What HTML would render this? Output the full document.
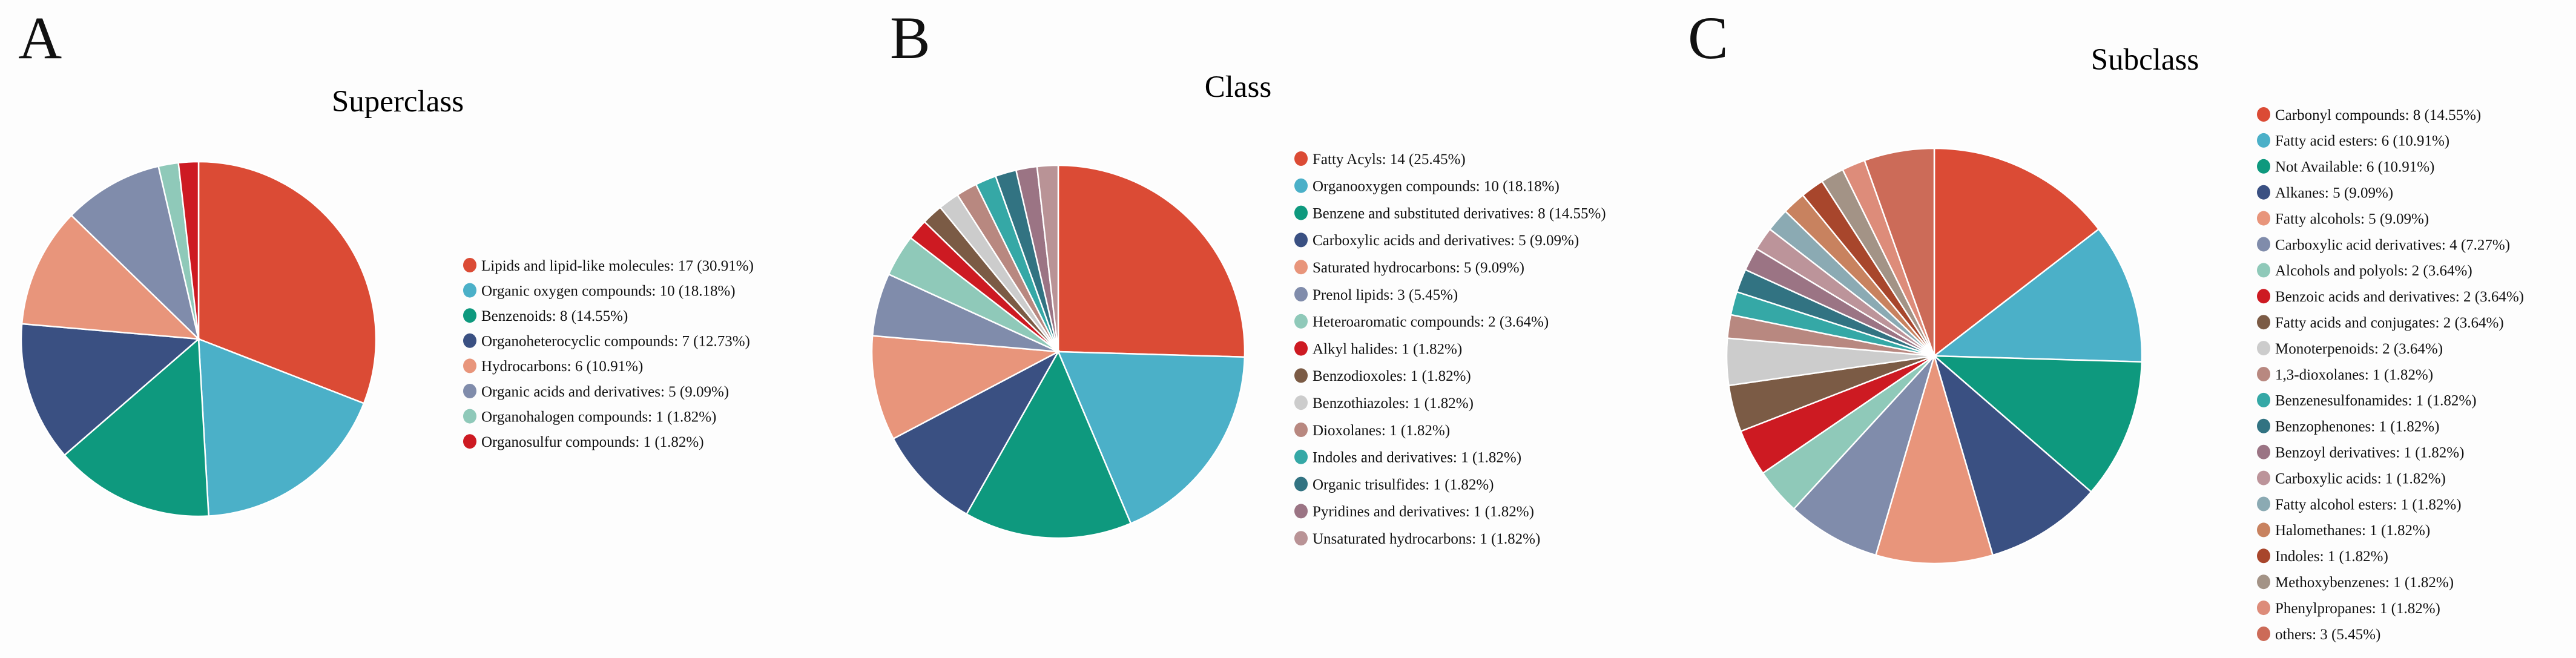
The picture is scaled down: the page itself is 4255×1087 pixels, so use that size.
<!DOCTYPE html>
<html><head><meta charset="utf-8"><style>
html,body{margin:0;padding:0;background:#fdfdfd;}
svg{display:block;font-family:"Liberation Serif",serif;}
</style></head><body>
<svg id="chart" width="4255" height="1087" viewBox="0 0 4255 1087" xmlns="http://www.w3.org/2000/svg">
<rect width="4255" height="1087" fill="#fdfdfd"/>
<text x="30" y="96" font-size="100" fill="#111">A</text>
<text x="1470" y="96" font-size="100" fill="#111">B</text>
<text x="2788" y="96" font-size="100" fill="#111">C</text>
<text x="657" y="184" font-size="51" text-anchor="middle" fill="#000">Superclass</text>
<text x="2045" y="160" font-size="51" text-anchor="middle" fill="#000">Class</text>
<text x="3543" y="115" font-size="51" text-anchor="middle" fill="#000">Subclass</text>
</svg>
<script>
const superCats = ["Lipids and lipid-like molecules","Organic oxygen compounds","Benzenoids","Organoheterocyclic compounds","Hydrocarbons","Organic acids and derivatives","Organohalogen compounds","Organosulfur compounds"];
const superVals = [17,10,8,7,6,5,1,1];
const superPct = ["30.91%","18.18%","14.55%","12.73%","10.91%","9.09%","1.82%","1.82%"];
const classCats = ["Fatty Acyls","Organooxygen compounds","Benzene and substituted derivatives","Carboxylic acids and derivatives","Saturated hydrocarbons","Prenol lipids","Heteroaromatic compounds","Alkyl halides","Benzodioxoles","Benzothiazoles","Dioxolanes","Indoles and derivatives","Organic trisulfides","Pyridines and derivatives","Unsaturated hydrocarbons"];
const classVals = [14,10,8,5,5,3,2,1,1,1,1,1,1,1,1];
const classPct = ["25.45%","18.18%","14.55%","9.09%","9.09%","5.45%","3.64%","1.82%","1.82%","1.82%","1.82%","1.82%","1.82%","1.82%","1.82%"];
const subCats = ["Carbonyl compounds","Fatty acid esters","Not Available","Alkanes","Fatty alcohols","Carboxylic acid derivatives","Alcohols and polyols","Benzoic acids and derivatives","Fatty acids and conjugates","Monoterpenoids","1,3-dioxolanes","Benzenesulfonamides","Benzophenones","Benzoyl derivatives","Carboxylic acids","Fatty alcohol esters","Halomethanes","Indoles","Methoxybenzenes","Phenylpropanes","others"];
const subVals = [8,6,6,5,5,4,2,2,2,2,1,1,1,1,1,1,1,1,1,1,3];
const subPct = ["14.55%","10.91%","10.91%","9.09%","9.09%","7.27%","3.64%","3.64%","3.64%","3.64%","1.82%","1.82%","1.82%","1.82%","1.82%","1.82%","1.82%","1.82%","1.82%","1.82%","5.45%"];

const base = ["#DB4B35","#4BB0C8","#0E997E","#3A5082","#E8957B","#808CAB","#8FC9B9","#CD1A22"];
const classColors = base.concat(["#7B5B45","#CCCCCC","#B88880","#35A8A6","#327382","#9B7484","#B99396"]);
const subColors = ["#DB4B35","#4BB0C8","#0E997E","#3A5082","#E8957B","#808CAB","#8FC9B9","#CD1A22","#7B5B45","#CCCCCC","#B88880","#35A8A6","#327382","#9B7484","#BC949A","#8BAAB3","#C8825F","#A8462C","#A39386","#DD8C7A","#CC6B58"];

const NS = "http://www.w3.org/2000/svg";
const svg = document.getElementById('chart');

function drawPie(name, cats, vals, pct, colors, cx, cy, r, lx, ly, step, fs) {
  const g = document.createElementNS(NS, 'g');
  
  
  svg.appendChild(g);
  const total = vals.reduce((a, b) => a + b, 0);
  let a0 = -Math.PI / 2;
  vals.forEach((v, i) => {
    const a1 = a0 + v / total * Math.PI * 2;
    const x0 = cx + r * Math.cos(a0), y0 = cy + r * Math.sin(a0);
    const x1 = cx + r * Math.cos(a1), y1 = cy + r * Math.sin(a1);
    const large = (a1 - a0) > Math.PI ? 1 : 0;
    const p = document.createElementNS(NS, 'path');
    p.setAttribute('d', `M${cx},${cy}L${x0},${y0}A${r},${r} 0 ${large} 1 ${x1},${y1}Z`);
    p.setAttribute('fill', colors[i]);
    p.setAttribute('stroke', '#fff');
    p.setAttribute('stroke-width', '2.5');
    
    
    g.appendChild(p);
    a0 = a1;
  });
  const lg = document.createElementNS(NS, 'g');
  
  
  svg.appendChild(lg);
  cats.forEach((c, i) => {
    const y = ly + i * step;
    const e = document.createElementNS(NS, 'g');
    
    
    const m = document.createElementNS(NS, 'ellipse');
    m.setAttribute('cx', lx); m.setAttribute('cy', y);
    m.setAttribute('rx', 11); m.setAttribute('ry', 12);
    m.setAttribute('fill', colors[i]);
    
    
    e.appendChild(m);
    const t = document.createElementNS(NS, 'text');
    t.setAttribute('x', lx + 19); t.setAttribute('y', y + fs * 0.35);
    t.setAttribute('font-size', fs);
    t.setAttribute('fill', '#111');
    
    
    t.textContent = `${c}: ${vals[i]} (${pct[i]})`;
    e.appendChild(t);
    lg.appendChild(e);
  });
}

drawPie('superclass', superCats, superVals, superPct, base, 328, 560, 293, 776, 438, 41.6, 25);
drawPie('class', classCats, classVals, classPct, classColors, 1748, 581, 308, 2149, 262, 44.8, 25);
drawPie('subclass', subCats, subVals, subPct, subColors, 3195, 588, 343, 3739, 189, 42.9, 25);
</script>
</body></html>
